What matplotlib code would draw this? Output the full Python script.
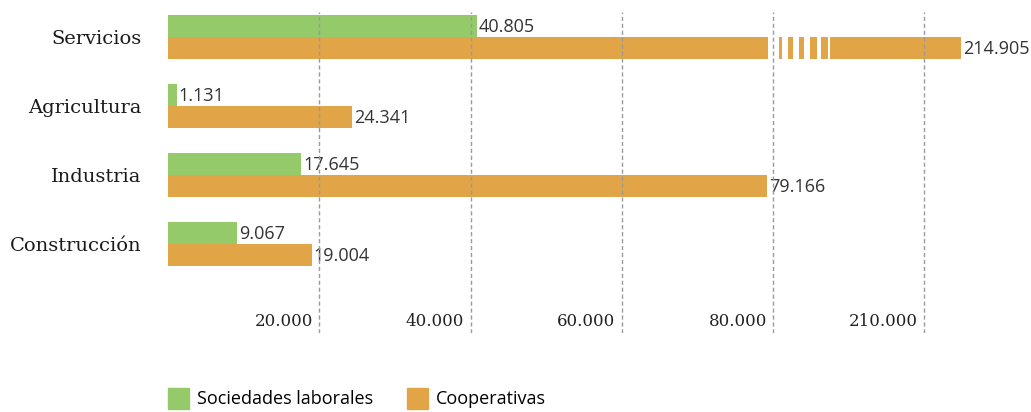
import matplotlib
matplotlib.use("Agg")
import matplotlib.pyplot as plt
from matplotlib.patches import Patch, Rectangle

categories = ["Servicios", "Agricultura", "Industria", "Construcción"]
sociedades = [40805, 1131, 17645, 9067]
cooperativas = [214905, 24341, 79166, 19004]
tick_values = [20000, 40000, 60000, 80000, 210000]

GREEN = "#95ca6a"
ORANGE = "#e1a548"
TEXT = "#333333"

# axis is broken between 80.000 and 210.000
BREAK_AT = 80000
BREAK_SKIP = 110000
# white stripes drawn over the broken bar (axis units)
break_gaps = [(79300, 80800), (81200, 82000), (82650, 83450),
              (84100, 84900), (85800, 86350), (87250, 87550)]


def disp(v):
    return v if v <= BREAK_AT else v - BREAK_SKIP


def fmt(v):
    return f"{v:,}".replace(",", ".")


fig = plt.figure(figsize=(10.31, 4.12), dpi=100)
ax = fig.add_axes([168 / 1031, 1 - 333 / 412, 832 / 1031, 321 / 412])

h = 22 / 69
for i, (s, c) in enumerate(zip(sociedades, cooperativas)):
    ax.barh(i - h / 2, disp(s), height=h, color=GREEN, zorder=2)
    ax.barh(i + h / 2, disp(c), height=h, color=ORANGE, zorder=2)
    ax.annotate(fmt(s), (disp(s), i - h / 2), xytext=(1.5, -1),
                textcoords="offset points", va="center", ha="left",
                fontsize=13, family="Open Sans", color=TEXT)
    ax.annotate(fmt(c), (disp(c), i + h / 2), xytext=(1.5, -1),
                textcoords="offset points", va="center", ha="left",
                fontsize=13, family="Open Sans", color=TEXT)
    if c > BREAK_AT:
        for a, b in break_gaps:
            ax.add_patch(Rectangle((a, i), b - a, h * 1.02, color="white",
                                   lw=0, zorder=2.5))

for t in tick_values:
    ax.axvline(disp(t), color="#9a9a9a", lw=1, ls=(0, (3, 2)), zorder=3)
    ax.annotate(fmt(t), (disp(t), 4.13), xytext=(-4.5, 0),
                textcoords="offset points", ha="right", va="center",
                fontsize=12, family="DejaVu Serif", color="#222222")

ax.set_xlim(0, 110000)
ax.set_ylim(4.29, -0.3623)
ax.set_xticks([])
ax.set_yticks(range(len(categories)))
ax.set_yticklabels(categories, family="DejaVu Serif", fontsize=14,
                   color="#1a1a1a")
ax.tick_params(axis="y", length=0, pad=19)
for sp in ax.spines.values():
    sp.set_visible(False)

handles = [Patch(color=GREEN, label="Sociedades laborales"),
           Patch(color=ORANGE, label="Cooperativas")]
fig.legend(handles=handles, loc="lower left",
           bbox_to_anchor=(168 / 1031, 3 / 412), ncol=2, frameon=False,
           borderpad=0, borderaxespad=0, handlelength=1.16,
           handleheight=1.44, handletextpad=0.42, columnspacing=1.9,
           prop={"family": "Open Sans", "size": 13})

fig.savefig("out.png", dpi=100)
